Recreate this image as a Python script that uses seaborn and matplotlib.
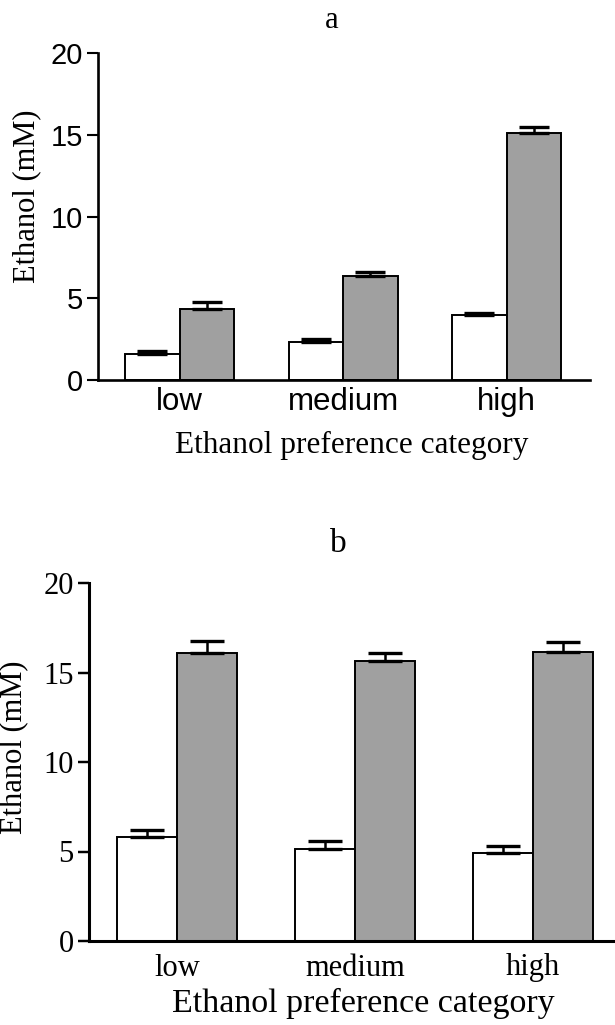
import matplotlib
matplotlib.use("Agg")
import matplotlib.pyplot as plt
import seaborn as sns
import pandas as pd
import numpy as np

# ---- data ----
categories = ["low", "medium", "high"]
groups = ["Group 1", "Group 2"]

a_white = [1.60, 2.31, 3.98]
a_white_err = [0.18, 0.20, 0.14]
a_gray = [4.35, 6.39, 15.10]
a_gray_err = [0.45, 0.24, 0.35]

b_white = [5.79, 5.14, 4.93]
b_white_err = [0.43, 0.47, 0.40]
b_gray = [16.07, 15.66, 16.13]
b_gray_err = [0.70, 0.44, 0.60]

yticks = [0, 5, 10, 15, 20]
ylabel = "Ethanol (mM)"
xlabel = "Ethanol preference category"

palette = {"Group 1": "#ffffff", "Group 2": "#a0a0a0"}

sns.set_style("ticks", {"axes.edgecolor": "black", "xtick.color": "black",
                        "ytick.color": "black", "text.color": "black",
                        "axes.labelcolor": "black"})
SERIF = ["Liberation Serif", "DejaVu Serif"]
SANS = ["Liberation Sans", "DejaVu Sans"]

fig = plt.figure(figsize=(6.15, 10.25), dpi=100)
ax_a = fig.add_axes([98 / 615, 1 - 380 / 1025, 492 / 615, 327 / 1025])
ax_b = fig.add_axes([89 / 615, 1 - 941 / 1025, 526 / 615, 358 / 1025])


def make_df(white, gray):
    return pd.DataFrame({
        "category": categories * 2,
        "group": [groups[0]] * 3 + [groups[1]] * 3,
        "value": list(white) + list(gray),
    })


def draw(ax, white, white_err, gray, gray_err, width, spine_lw, capsize,
         tick_font, tick_size, ytick_size, xlim, xpad):
    df = make_df(white, gray)
    sns.barplot(data=df, x="category", y="value", hue="group", order=categories,
                hue_order=groups, palette=palette, edgecolor="black",
                linewidth=1.4, width=width, errorbar=None, legend=False,
                saturation=1, ax=ax)
    for cont, errs in zip(ax.containers, [white_err, gray_err]):
        xs = [p.get_x() + p.get_width() / 2 for p in cont.patches]
        ys = [p.get_height() for p in cont.patches]
        ax.errorbar(xs, ys, yerr=[np.zeros(len(errs)), errs], fmt="none",
                    ecolor="black", elinewidth=1.8, capsize=capsize,
                    capthick=2.4, zorder=3)
    ax.set_ylim(0, 20)
    ax.set_xlim(*xlim)
    ax.set_yticks(yticks)
    sns.despine(ax=ax)
    for s in ["left", "bottom"]:
        ax.spines[s].set_linewidth(spine_lw)
        ax.spines[s].set_color("black")
        ax.spines[s].set_zorder(5)
    ax.tick_params(axis="y", length=8, width=spine_lw * 0.8, pad=3,
                   labelsize=ytick_size, colors="black")
    ax.tick_params(axis="x", length=0, pad=xpad, labelsize=tick_size,
                   colors="black")
    for lab in ax.get_yticklabels() + ax.get_xticklabels():
        lab.set_family(tick_font)
    ax.set_xlabel("")
    ax.set_ylabel("")


draw(ax_a, a_white, a_white_err, a_gray, a_gray_err, 0.667, 1.9, 11,
     SANS, 22.5, 21, (-0.5, 2.51), 5)
draw(ax_b, b_white, b_white_err, b_gray, b_gray_err, 0.674, 2.2, 12,
     SERIF, 22, 22, (-0.494, 2.46), 9)

# axis labels
fig.text(27 / 615, 1 - 196 / 1025, ylabel, rotation=90, ha="center",
         va="center", fontsize=22, family=SERIF)
fig.text(352 / 615, 1 - 445 / 1025, xlabel, ha="center", va="center",
         fontsize=22.5, family=SERIF)
fig.text(14 / 615, 1 - 747 / 1025, ylabel, rotation=90, ha="center",
         va="center", fontsize=22, family=SERIF)
fig.text(363 / 615, 1 - 1003 / 1025, xlabel, ha="center", va="center",
         fontsize=24.5, family=SERIF)

# panel titles
fig.text(332 / 615, 1 - 21 / 1025, "a", ha="center", va="center",
         fontsize=22, family=SERIF)
fig.text(338 / 615, 1 - 544 / 1025, "b", ha="center", va="center",
         fontsize=24, family=SERIF)

fig.savefig("out.png", dpi=100, facecolor="white")
